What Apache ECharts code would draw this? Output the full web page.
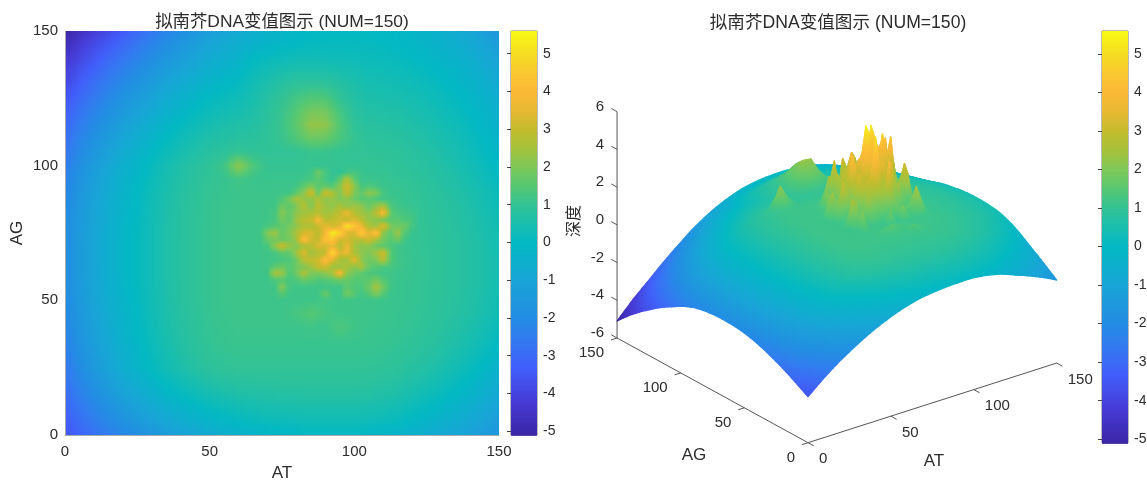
<!DOCTYPE html>
<html><head><meta charset="utf-8">
<style>html,body{margin:0;padding:0;background:#fff}#c{width:1147px;height:480px}</style>
<script src="https://cdn.jsdelivr.net/npm/echarts@6/dist/echarts.min.js"></script>
</head><body><div id="c"></div>
<script>
const titleText = '拟南芥DNA变值图示 (NUM=150)';
const xyTicks = [0, 50, 100, 150];
const zTicks = [-6, -4, -2, 0, 2, 4, 6];
const colorbarTicks = [-5, -4, -3, -2, -1, 0, 1, 2, 3, 4, 5];
const colorMin = -5.1, colorMax = 5.6;
const colorStops = [[-5.1,60,38,165],[-4.2,71,60,215],[-3.3,66,95,250],[-2.5,50,125,240],[-2,36,140,228],[-1,25,165,215],[0,3,185,195],[.5,25,190,175],[1,50,195,150],[1.5,85,200,115],[2,125,200,90],[2.5,165,195,60],[3,195,188,45],[3.5,230,185,50],[4,252,185,55],[4.5,250,200,50],[5,245,220,35],[5.6,250,250,20]];
const _ = null;
// Depth: one row per AG = 0,5,...,150, one column per AT = 0,5,...,150.
const coarseStep = 5;
const coarseDepth = [
[-3.56,-3.18,-2.82,-2.48,-2.16,-1.88,-1.61,-1.36,-1.13,-.92,-.73,-.56,-.42,-.3,-.21,-.16,-.11,-.08,-.07,-.05,-.06,-.12,-.2,-.3,-.45,-.63,-.79,-.97,-1.16,-1.37,-1.6],
[-3.36,-2.91,-2.5,-2.13,-1.77,-1.47,-1.18,-.91,-.67,-.46,-.27,-.11,.01,.12,.19,.23,.27,.3,.3,.3,.3,.26,.18,.09,-.07,-.25,-.43,-.63,-.84,-1.08,-1.35],
[-3.16,-2.66,-2.21,-1.82,-1.43,-1.12,-.82,-.54,-.3,-.09,.09,.23,.33,.41,.47,.5,.52,.55,.55,.55,.55,.51,.44,.36,.21,.04,-.13,-.33,-.55,-.81,-1.1],
[-2.96,-2.41,-1.93,-1.52,-1.12,-.8,-.48,-.2,.03,.24,.41,.52,.61,.66,.69,.71,.73,.75,.75,.75,.75,.72,.66,.58,.45,.3,.13,-.06,-.28,-.54,-.85],
[-2.78,-2.18,-1.68,-1.26,-.84,-.51,-.19,.1,.33,.52,.68,.77,.83,.85,.87,.89,.89,.9,.9,.9,.9,.88,.83,.76,.64,.51,.36,.17,-.05,-.31,-.62],
[-2.62,-1.99,-1.46,-1.03,-.59,-.27,.06,.35,.57,.75,.89,.96,1,1,1,1,1,1,1,1,1,.99,.94,.89,.79,.68,.54,.38,.17,-.08,-.38],
[-2.47,-1.85,-1.34,-.91,-.49,-.17,.15,.43,.65,.82,.96,1.03,1.07,1.07,1.07,1.07,1.07,1.07,1.07,1.07,1.07,1.06,1.02,.97,.89,.79,.67,.52,.34,.12,-.15],
[-2.33,-1.73,-1.23,-.81,-.4,-.09,.22,.5,.71,.88,1.02,1.09,1.12,1.12,1.12,1.12,1.12,1.12,1.12,1.12,1.12,1.11,1.08,1.03,.96,.87,.77,.64,.48,.29,.05],
[-2.21,-1.62,-1.13,-.73,-.33,-.03,.28,.55,.75,.91,1.05,1.12,1.15,1.15,1.15,1.15,1.15,1.2,1.15,1.4,1.2,1.14,1.11,1.07,1.01,.93,.84,.72,.58,.41,.2],
[-2.11,-1.54,-1.06,-.67,-.28,.02,.31,.57,.77,.93,1.06,1.13,1.16,1.16,1.16,1.16,1.3,1.5,1.3,1.2,1.18,1.15,1.13,1.09,1.03,.97,.88,.78,.66,.5,.32],
[-2.03,-1.47,-1,-.62,-.24,.05,.34,.59,.79,.95,1.07,1.14,1.17,1.17,1.17,1.17,1.17,1.17,1.25,1.17,1.2,1.16,1.14,1.11,1.05,.98,.91,.81,.7,.55,.38],
[-1.98,-1.43,-.97,-.59,-.22,.07,.35,.6,.79,.95,1.08,1.14,1.17,1.17,_,_,_,_,_,_,_,_,_,_,_,.98,.92,.83,.72,.59,.42],
[-1.95,-1.4,-.95,-.58,-.2,.08,.36,.61,.8,.95,1.08,1.14,1.17,1.17,_,_,_,_,_,_,_,_,_,_,_,1,.93,.84,.73,.6,.44],
[-1.94,-1.4,-.94,-.57,-.2,.08,.36,.61,.8,.95,1.08,1.14,1.17,1.17,_,_,_,_,_,_,_,_,_,_,_,1,.93,.84,.73,.6,.44],
[-1.94,-1.4,-.94,-.57,-.2,.08,.36,.61,.8,.95,1.08,1.14,1.17,1.17,_,_,_,_,_,_,_,_,_,_,_,.98,.92,.83,.72,.59,.42],
[-1.96,-1.41,-.96,-.58,-.21,.07,.36,.61,.79,.95,1.08,1.14,1.17,1.17,_,_,_,_,_,_,_,_,_,_,_,.99,.91,.81,.7,.55,.38],
[-2,-1.45,-.99,-.61,-.22,.06,.35,.6,.79,.95,1.07,1.14,1.17,1.17,_,_,_,_,_,_,_,_,_,_,_,.97,.89,.79,.66,.51,.32],
[-2.07,-1.5,-1.03,-.64,-.26,.04,.33,.59,.78,.94,1.07,1.14,1.17,1.17,_,_,_,_,_,_,_,_,_,_,_,.96,.87,.76,.62,.46,.26],
[-2.16,-1.58,-1.1,-.71,-.31,0,.28,.55,.74,.91,1.04,1.11,1.14,1.15,_,_,_,_,_,_,_,_,_,_,_,.92,.82,.71,.56,.39,.18],
[-2.3,-1.71,-1.21,-.8,-.4,-.09,.22,.49,.69,.86,1,1.07,1.25,1.12,_,_,_,_,_,_,_,_,_,_,_,.86,.75,.63,.47,.28,.05],
[-2.47,-1.85,-1.34,-.92,-.5,-.18,.13,.42,.63,.8,.95,1.2,2.2,1.4,1.05,1.05,1.05,1.07,1.07,1.05,1.05,1.04,1.01,.96,.88,.79,.68,.55,.38,.18,-.06],
[-2.67,-2.06,-1.55,-1.12,-.7,-.37,-.05,.24,.47,.66,.81,.9,1.05,.97,.98,.99,1,1.1,1.1,1.02,1,.99,.95,.91,.82,.73,.61,.47,.29,.08,-.18],
[-2.87,-2.27,-1.77,-1.34,-.92,-.59,-.26,.04,.27,.48,.64,.74,.81,.84,.95,1.1,1.4,1.75,1.7,1.35,1.05,.91,.87,.82,.74,.64,.52,.38,.2,-.02,-.28],
[-3.08,-2.5,-2,-1.58,-1.17,-.83,-.49,-.19,.06,.27,.45,.57,.65,.72,.9,1.15,1.6,2.3,2.25,1.45,.95,.81,.77,.72,.64,.54,.42,.28,.1,-.12,-.38],
[-3.32,-2.75,-2.26,-1.84,-1.43,-1.08,-.74,-.43,-.18,.05,.25,.38,.48,.6,.85,1.1,1.5,1.95,1.9,1.3,.85,.71,.67,.62,.54,.44,.32,.18,0,-.22,-.48],
[-3.58,-3.03,-2.54,-2.13,-1.72,-1.36,-1.02,-.7,-.43,-.19,.02,.17,.29,.5,.75,1,1.25,1.45,1.4,1,.7,.59,.55,.5,.42,.32,.2,.06,-.12,-.34,-.6],
[-3.84,-3.31,-2.83,-2.42,-2.02,-1.65,-1.31,-.98,-.7,-.44,-.21,-.04,.1,.38,.6,.8,.95,1,.95,.8,.6,.47,.43,.38,.3,.2,.07,-.07,-.26,-.48,-.75],
[-4.12,-3.61,-3.14,-2.73,-2.34,-1.97,-1.61,-1.28,-.99,-.7,-.46,-.28,-.12,.2,.38,.52,.6,.62,.6,.5,.42,.34,.3,.25,.16,.06,-.06,-.21,-.4,-.63,-.9],
[-4.42,-3.93,-3.47,-3.07,-2.68,-2.29,-1.94,-1.59,-1.28,-.99,-.73,-.51,-.33,-.02,.12,.22,.3,.32,.3,.28,.24,.2,.17,.11,.02,-.08,-.22,-.37,-.57,-.81,-1.1],
[-4.75,-4.28,-3.83,-3.43,-3.05,-2.65,-2.28,-1.92,-1.6,-1.28,-1,-.75,-.55,-.38,-.22,-.1,0,.08,.1,.1,.1,.09,.04,-.01,-.11,-.23,-.37,-.54,-.75,-1.01,-1.32],
[-5.1,-4.65,-4.2,-3.8,-3.42,-3,-2.62,-2.25,-1.9,-1.55,-1.25,-.98,-.74,-.54,-.36,-.22,-.12,-.05,0,.02,.02,0,-.03,-.1,-.2,-.33,-.48,-.67,-.9,-1.22,-1.6]
];
// Central cluster read at a finer pitch: rows AG = 50,52.5,...,100; columns AT = 65,67.5,...,125.
const fineStep = 2.5, fineAT0 = 65, fineAG0 = 50;
const fineDepth = [
[1.17,1.17,1.17,1.17,1.17,1.17,1.17,1.17,1.17,1.21,1.25,1.21,1.17,1.18,1.2,1.18,1.16,1.15,1.14,1.13,1.11,1.08,1.05,1.02,.98],
[1.17,1.17,1.17,1.2,1.5,1.2,1.17,1.2,1.17,1.2,1.8,1.17,1.17,1.9,1.5,1.2,1.5,2,1.5,1.13,1.1,1.08,1.05,1.02,.98],
[1.17,1.17,1.17,1.2,2.1,1.3,1.2,1.2,1.2,1.2,1.2,1.2,1.2,1.6,1.4,1.4,1.8,2.5,1.9,1.2,1.1,1.08,1.05,1.02,.98],
[1.17,1.17,1.17,1.4,1.5,1.3,1.4,1.7,1.6,1.4,1.5,1.6,1.8,1.7,1.5,1.5,1.6,1.9,1.5,1.2,1.12,1.1,1.06,1.03,.99],
[1.17,1.17,1.2,2.6,2.4,1.4,1.8,2.7,2,2,2.2,2.6,4,2.2,1.8,1.6,1.4,1.3,1.2,1.2,1.12,1.1,1.07,1.04,1],
[1.17,1.17,1.2,1.6,1.8,1.5,1.8,2,2.4,3,3.2,2.4,2.4,2.6,2.2,2.6,1.7,1.5,1.4,1.3,1.2,1.12,1.07,1.04,1],
[1.17,1.17,1.2,1.2,1.3,1.4,1.8,2.8,3,3.2,4.2,3.4,2.6,2.4,3.6,2.2,1.8,2,2.8,1.5,1.2,1.12,1.07,1.04,1],
[1.17,1.17,1.2,1.3,1.6,1.6,2.4,3.4,2.4,2.7,2.9,5.1,3.3,3.6,2.6,2.2,2,2.4,3.2,1.5,1.2,1.12,1.07,1.03,.99],
[1.17,1.17,1.3,2.2,3.1,2.4,2,2.6,2.8,3.4,3.2,3.6,2.8,3.6,2.5,2.2,2.2,1.8,1.6,1.4,1.2,1.12,1.06,1.02,.98],
[1.17,1.18,1.7,1.9,1.8,1.9,2.4,4.2,3.2,3,4.2,4.5,3.1,3.3,2.8,2.7,3.2,2.5,1.9,1.5,1.8,1.2,1.06,1.02,.98],
[1.17,1.2,2.1,2.4,1.7,2,2.6,3.3,3.4,2.8,3.8,5.4,4.8,3.4,3.2,4.7,3.4,4.4,2.2,1.6,2.4,1.5,1.07,1.03,.99],
[1.17,1.18,1.3,1.5,1.6,1.9,2.2,2.7,2.6,3.1,3.6,3.2,3.4,5.2,4.4,3.6,2.6,2.4,3.4,2,1.8,1.8,1.3,1.03,.98],
[1.17,1.17,1.2,1.3,1.9,1.6,2.4,2.9,3,3.9,2.8,3,3.2,3,3.4,2.9,2.3,2.2,1.9,1.5,1.6,1.4,1.3,1.02,.97],
[1.17,1.17,1.2,1.3,2.1,1.7,2.2,2.4,2.6,2.8,2.4,2.6,3,3.6,2.8,2.4,2.2,2.8,4,1.7,1.3,1.3,1.2,1.02,.96],
[1.17,1.17,1.2,1.2,1.8,1.6,2,2.8,2,2.9,2.4,2.2,2.6,2.2,2.4,2.2,1.7,2.2,2.6,1.4,1.2,1.12,1.05,1.01,.96],
[1.17,1.17,1.17,1.2,1.4,1.9,2.6,2.3,2.2,2.6,2.2,2.4,2,2.2,1.8,1.5,1.6,1.4,1.2,1.2,1.12,1.08,1.04,.99,.94],
[1.15,1.15,1.15,1.15,1.2,1.2,1.6,2.2,3.2,1.7,3.2,2.6,2,3,2,1.6,2.2,2,1.3,1.12,1.1,1.05,1.02,.97,.92],
[1.14,1.14,1.14,1.14,1.14,1.14,1.2,1.6,2,1.5,1.6,1.4,2.2,3.2,2.2,1.3,1.4,1.3,1.12,1.1,1.06,1.03,1,.95,.89],
[1.12,1.12,1.12,1.12,1.12,1.12,1.12,1.2,1.3,1.6,1.3,1.05,1.6,2.6,1.6,1.12,1.12,1.1,1.08,1.05,1.02,1,.96,.91,.86],
[1.26,1.15,1.08,1.08,1.08,1.08,1.08,1.1,1.2,1.8,1.3,1.02,.9,1.2,1.3,1.1,1.07,1.05,1.03,1,.97,.94,.9,.86,.82],
[1.4,1.22,1.05,1.05,1.05,1.05,1.05,1.06,1.07,1.07,1.07,1.06,1.05,1.05,1.05,1.045,1.04,1.02,1.01,.98,.96,.92,.88,.83,.79]
];

const FONT = '"Liberation Sans","Noto Sans CJK SC",sans-serif';
const INK = '#2b2b2b';

function colorOf(v) {
  const s = colorStops;
  if (v <= s[0][0]) return `rgb(${s[0][1]},${s[0][2]},${s[0][3]})`;
  for (let k = 1; k < s.length; k++) {
    if (v <= s[k][0]) {
      const t = (v - s[k-1][0]) / (s[k][0] - s[k-1][0]);
      return `rgb(${s[k-1][1]+(s[k][1]-s[k-1][1])*t|0},${s[k-1][2]+(s[k][2]-s[k-1][2])*t|0},${s[k-1][3]+(s[k][3]-s[k-1][3])*t|0})`;
    }
  }
  const l = s[s.length-1];
  return `rgb(${l[1]},${l[2]},${l[3]})`;
}

// One cell per grid square: [AT, AG, size, z at its four corners]
const cells = [];
for (let j = 0; j < coarseDepth.length - 1; j++) for (let i = 0; i < coarseDepth[j].length - 1; i++) {
  const at = i * coarseStep, ag = j * coarseStep;
  if (at >= 65 && at < 125 && ag >= 50 && ag < 100) continue;
  cells.push([at, ag, coarseStep, coarseDepth[j][i], coarseDepth[j][i+1], coarseDepth[j+1][i], coarseDepth[j+1][i+1]]);
}
for (let j = 0; j < fineDepth.length - 1; j++) for (let i = 0; i < fineDepth[j].length - 1; i++) {
  cells.push([fineAT0 + i*fineStep, fineAG0 + j*fineStep, fineStep, fineDepth[j][i], fineDepth[j][i+1], fineDepth[j+1][i], fineDepth[j+1][i+1]]);
}
const view = {ox:808, oy:442.7, atX:1.658, atY:-.531, agX:-1.273, agY:-.698, zPx:18.86, zBase:-6};
const depthOf = c => 1.273*(c[0]+c[2]/2) + 1.658*(c[1]+c[2]/2);
const surfaceCells = cells.slice().sort((a,b) => depthOf(b) - depthOf(a));
const project = (at, ag, z) => [view.ox + view.atX*at + view.agX*ag, view.oy + view.atY*at + view.agY*ag - (z - view.zBase)*view.zPx];
const bil = (c, u, v) => c[3]*(1-u)*(1-v) + c[4]*u*(1-v) + c[5]*(1-u)*v + c[6]*u*v;
const LG = echarts.graphic.LinearGradient;

function renderHeat(params, api) {
  const c = cells[params.dataIndex], n = c[2] === coarseStep ? 6 : 4, kids = [];
  const top = Math.round(api.coord([c[0], c[1] + c[2]])[1]), bottom = Math.round(api.coord([c[0], c[1]])[1]);
  for (let a = 0; a < n; a++) {
    const x0 = Math.round(api.coord([c[0] + c[2]*a/n, c[1]])[0]);
    const x1 = Math.round(api.coord([c[0] + c[2]*(a+1)/n, c[1]])[0]);
    if (x1 <= x0) continue;
    const u = (a+.5)/n;
    kids.push({type:'rect', shape:{x:x0, y:top, width:x1-x0, height:bottom-top},
      style:{fill:new LG(0,0,0,1,[{offset:0,color:colorOf(bil(c,u,1))},{offset:.5,color:colorOf(bil(c,u,.5))},{offset:1,color:colorOf(bil(c,u,0))}])}, silent:true});
  }
  return {type:'group', children:kids};
}
// Shades one facet along the screen direction in which its depth changes.
function facetPaint(pts, vals) {
  const d1 = [pts[2][0]-pts[0][0], pts[2][1]-pts[0][1]], d2 = [pts[3][0]-pts[1][0], pts[3][1]-pts[1][1]];
  const dv1 = vals[2]-vals[0], dv2 = vals[3]-vals[1];
  const det = d1[0]*d2[1] - d1[1]*d2[0];
  const lo = Math.min.apply(null, vals), hi = Math.max.apply(null, vals), mid = (vals[0]+vals[1]+vals[2]+vals[3])/4;
  if (Math.abs(det) < .5 || hi - lo < 1e-6) return colorOf(mid);
  const gx = (dv1*d2[1] - dv2*d1[1]) / det, gy = (d1[0]*dv2 - d2[0]*dv1) / det, g2 = gx*gx + gy*gy;
  if (g2 < 1e-9) return colorOf(mid);
  const cx = (pts[0][0]+pts[1][0]+pts[2][0]+pts[3][0])/4, cy = (pts[0][1]+pts[1][1]+pts[2][1]+pts[3][1])/4;
  const a = (lo-mid)/g2, b = (hi-mid)/g2;
  return new LG(cx+gx*a, cy+gy*a, cx+gx*b, cy+gy*b,
    [{offset:0,color:colorOf(lo)},{offset:.5,color:colorOf((lo+hi)/2)},{offset:1,color:colorOf(hi)}], true);
}
function renderSurface(params, api) {
  const c = surfaceCells[params.dataIndex], n = 2, kids = [];
  const P = (u,v) => api.coord(project(c[0]+c[2]*u, c[1]+c[2]*v, bil(c,u,v)));
  for (let a = n-1; a >= 0; a--) for (let b = n-1; b >= 0; b--) {
    const corners = [[a/n,b/n],[(a+1)/n,b/n],[(a+1)/n,(b+1)/n],[a/n,(b+1)/n]];
    const vals = corners.map(q => bil(c,q[0],q[1]));
    const pts = corners.map(q => P(q[0],q[1]));
    const paint = facetPaint(pts, vals);
    kids.push({type:'polygon', shape:{points:pts}, style:{fill:paint, stroke:paint, lineWidth:1.3, lineJoin:'round'}, silent:true});
  }
  return {type:'group', children:kids};
}
function renderAxes3d(params, api) {
  const AXIS = '#555', kids = [];
  const line = (a, b, w) => { const p = api.coord(a), q = api.coord(b);
    kids.push({type:'line', shape:{x1:p[0],y1:p[1],x2:q[0],y2:q[1]}, style:{stroke:AXIS, lineWidth:w||1}, silent:true}); };
  const text = (s, p, align, size, rot) => kids.push({type:'text', x:p[0], y:p[1], rotation:rot||0,
    style:{text:s, textAlign:align, textVerticalAlign:'middle', font:`${size}px ${FONT}`, fill:INK}, silent:true});
  const zb = view.zBase;
  line(project(0,0,zb), project(150,0,zb));
  line(project(0,0,zb), project(0,150,zb));
  line(project(0,150,zb), project(0,150,6));
  xyTicks.forEach(t => {
    line(project(t,0,zb), project(t,-4.5,zb));
    let p = api.coord(project(t,0,zb));
    text(String(t), [p[0]+11, p[1]+16.5], 'left', 15);
    line(project(0,t,zb), project(-3.7,t,zb));
    p = api.coord(project(0,t,zb));
    text(String(t), [p[0]-13, p[1]+15], 'right', 15);
  });
  zTicks.forEach(t => {
    line(project(0,150,t), project(0,154.5,t));
    const p = api.coord(project(0,150,t));
    text(String(t), [p[0]-13, p[1]-5], 'right', 15);
  });
  text('AG', [694,455], 'center', 17);
  text('AT', [934,461], 'center', 17);
  text('深度', [575,221], 'center', 16, Math.PI/2);
  return {type:'group', children:kids};
}
const colorbarLevels = [];
for (let v = colorMin; v < colorMax - 1e-6; v += .05) colorbarLevels.push([.5, +v.toFixed(2)]);
function renderBar(params, api) {
  const v = api.value(1);
  const p0 = api.coord([0, v+.05]), p1 = api.coord([1, v]);
  return {type:'rect', shape:{x:p0[0], y:p0[1], width:p1[0]-p0[0], height:p1[1]-p0[1]+.8}, style:{fill:colorOf(v+.025)}, silent:true};
}
const barX = gi => ({gridIndex:gi, type:'value', min:0, max:1, show:false});
const barY = gi => ({gridIndex:gi, type:'value', min:colorMin, max:colorMax, position:'right', z:6,
  axisLine:{show:false}, splitLine:{show:false},
  axisTick:{show:true, inside:true, length:4, customValues:colorbarTicks, lineStyle:{color:'#444'}},
  axisLabel:{color:INK, fontSize:14, fontFamily:FONT, margin:6, customValues:colorbarTicks, showMinLabel:true, showMaxLabel:true}});

const chart = echarts.init(document.getElementById('c'), null, {renderer:'canvas'});
chart.setOption({
  animation:false, backgroundColor:'#fff',
  title:[
    {text:titleText, left:277, top:9, textAlign:'center', textStyle:{fontSize:17.4, fontWeight:'normal', color:INK, fontFamily:FONT}},
    {text:titleText, left:833, top:9, textAlign:'center', textStyle:{fontSize:17.6, fontWeight:'normal', color:INK, fontFamily:FONT}}
  ],
  grid:[
    {left:65, top:31, width:434, height:404, outerBoundsMode:'none'},
    {left:511, top:31, width:26, height:404, show:true, borderColor:'#777', borderWidth:1, outerBoundsMode:'none'},
    {left:1102, top:31, width:26, height:412, show:true, borderColor:'#777', borderWidth:1, outerBoundsMode:'none'},
    {left:0, top:0, width:1147, height:480, outerBoundsMode:'none'}
  ],
  xAxis:[
    {gridIndex:0, type:'value', min:0, max:150, interval:50, name:'AT', nameLocation:'middle', nameGap:30, z:6,
      nameTextStyle:{fontSize:17, color:INK, fontFamily:FONT},
      axisLine:{show:true, onZero:false, lineStyle:{color:'#aaa'}}, axisTick:{show:false}, splitLine:{show:false},
      axisLabel:{color:INK, fontSize:15, fontFamily:FONT, margin:9}},
    barX(1), barX(2),
    {gridIndex:3, type:'value', min:0, max:1147, show:false}
  ],
  yAxis:[
    {gridIndex:0, type:'value', min:0, max:150, interval:50, name:'AG', nameLocation:'middle', nameGap:39, z:6,
      nameTextStyle:{fontSize:17, color:INK, fontFamily:FONT},
      axisLine:{show:true, onZero:false, lineStyle:{color:'#aaa'}}, axisTick:{show:false}, splitLine:{show:false},
      axisLabel:{color:INK, fontSize:15, fontFamily:FONT, margin:7}},
    barY(1), barY(2),
    {gridIndex:3, type:'value', min:0, max:480, inverse:true, show:false}
  ],
  series:[
    {type:'custom', name:'heat', xAxisIndex:0, yAxisIndex:0, data:cells, encode:{x:0,y:1}, renderItem:renderHeat, clip:true, silent:true, progressive:0},
    {type:'custom', name:'bar1', xAxisIndex:1, yAxisIndex:1, data:colorbarLevels, encode:{x:0,y:1}, renderItem:renderBar, silent:true, progressive:0},
    {type:'custom', name:'bar2', xAxisIndex:2, yAxisIndex:2, data:colorbarLevels, encode:{x:0,y:1}, renderItem:renderBar, silent:true, progressive:0},
    {type:'custom', name:'surface', xAxisIndex:3, yAxisIndex:3, data:surfaceCells, encode:{x:0,y:1}, renderItem:renderSurface, clip:false, silent:true, progressive:0},
    {type:'custom', name:'axes3d', xAxisIndex:3, yAxisIndex:3, data:[[0,0]], encode:{x:0,y:1}, renderItem:renderAxes3d, clip:false, silent:true, z:1}
  ]
});
</script></body></html>
